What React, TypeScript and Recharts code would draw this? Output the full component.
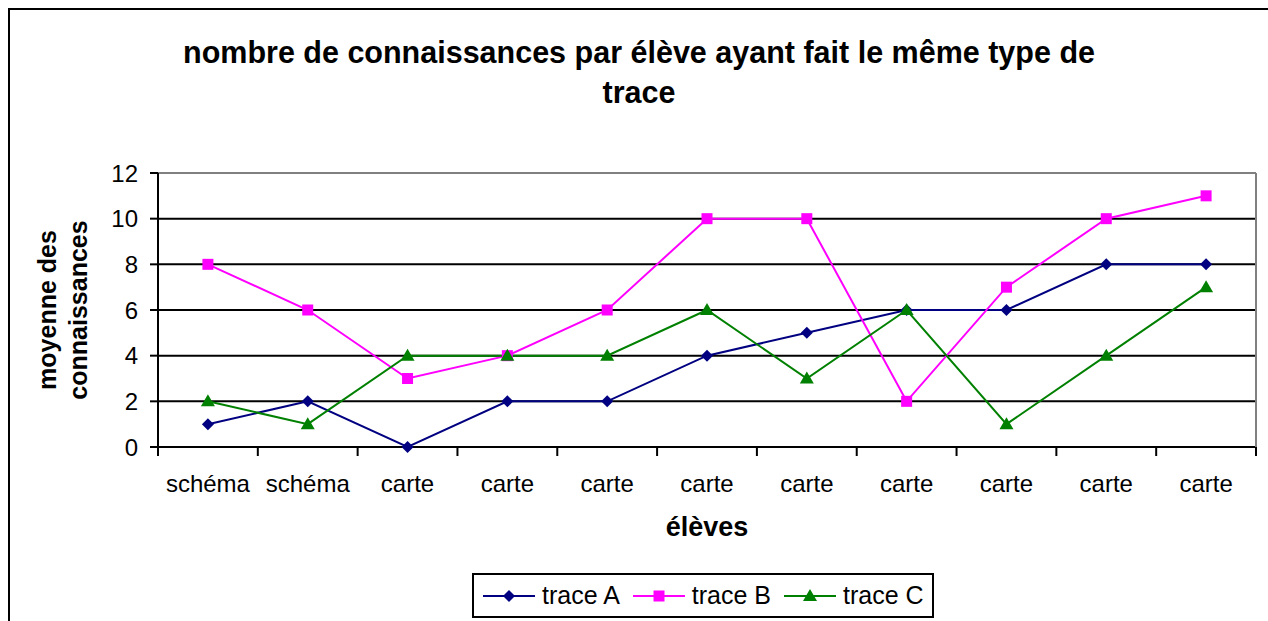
import React from 'react';
import { LineChart, Line, XAxis, YAxis, ReferenceLine, Legend } from 'recharts';

const categories = ['schéma', 'schéma', 'carte', 'carte', 'carte', 'carte', 'carte', 'carte', 'carte', 'carte', 'carte'];
const traceA = [1, 2, 0, 2, 2, 4, 5, 6, 6, 8, 8];
const traceB = [8, 6, 3, 4, 6, 10, 10, 2, 7, 10, 11];
const traceC = [2, 1, 4, 4, 4, 6, 3, 6, 1, 4, 7];
const yTicks = [0, 2, 4, 6, 8, 10, 12];
const gridValues = [2, 4, 6, 8, 10];
const seriesNames = ['trace A', 'trace B', 'trace C'];
const seriesColors = ['#000080', '#FF00FF', '#008000'];
const titleLines = ['nombre de connaissances par élève ayant fait le même type de', 'trace'];
const yLabelLines = ['moyenne des', 'connaissances'];
const xLabel = 'élèves';

const data = categories.map((c, i) => ({ idx: i, name: c, A: traceA[i], B: traceB[i], C: traceC[i] }));

const FONT = 'Arial, "Liberation Sans", sans-serif';

const Diamond = (props: any) => {
  const { cx, cy, color } = props;
  if (cx == null || cy == null) return null;
  const r = 6;
  return <path d={`M${cx},${cy - r}L${cx + r},${cy}L${cx},${cy + r}L${cx - r},${cy}Z`} fill={color} />;
};
const Square = (props: any) => {
  const { cx, cy, color } = props;
  if (cx == null || cy == null) return null;
  const r = 5.5;
  return <rect x={cx - r} y={cy - r} width={2 * r} height={2 * r} fill={color} />;
};
const Triangle = (props: any) => {
  const { cx, cy, color } = props;
  if (cx == null || cy == null) return null;
  return <path d={`M${cx},${cy - 7}L${cx + 7},${cy + 5}L${cx - 7},${cy + 5}Z`} fill={color} />;
};
const shapes = [Diamond, Square, Triangle];

const CatTick = (props: any) => {
  const { x, y, payload, index, visibleTicksCount } = props;
  const off = payload?.offset ?? 0;
  const last = index === (visibleTicksCount ?? categories.length) - 1;
  return (
    <g>
      <line x1={x - off} y1={y} x2={x - off} y2={y + 9} stroke="#000" strokeWidth={2} />
      {last && <line x1={x + off} y1={y} x2={x + off} y2={y + 9} stroke="#000" strokeWidth={2} />}
      <text x={x} y={y + 45} textAnchor="middle" fontFamily={FONT} fontSize={24} fill="#000">
        {categories[payload.value]}
      </text>
    </g>
  );
};

const LegendContent = () => (
  <div
    style={{
      display: 'flex',
      alignItems: 'center',
      border: '2px solid #000',
      background: '#fff',
      height: 41,
      boxSizing: 'content-box',
      padding: '0 8px 0 9px',
      fontFamily: FONT,
      fontSize: 25,
      color: '#000',
    }}
  >
    {seriesNames.map((n, i) => {
      const S = shapes[i];
      return (
        <div key={n} style={{ display: 'flex', alignItems: 'center', marginLeft: i === 0 ? 0 : 13 }}>
          <svg width={52} height={16} style={{ marginRight: 7 }}>
            <line x1={0} y1={8} x2={52} y2={8} stroke={seriesColors[i]} strokeWidth={2} />
            <S cx={26} cy={8} color={seriesColors[i]} />
          </svg>
          <span>{n}</span>
        </div>
      );
    })}
  </div>
);

const YLabel = (props: any) => {
  const vb = props.viewBox || {};
  const cy = (vb.y ?? 173) + (vb.height ?? 273) / 2;
  return (
    <g>
      <text x={56} y={cy} transform={`rotate(-90 56 ${cy})`} textAnchor="middle" fontFamily={FONT} fontWeight="bold" fontSize={25} fill="#000">
        {yLabelLines[0]}
      </text>
      <text x={87} y={cy} transform={`rotate(-90 87 ${cy})`} textAnchor="middle" fontFamily={FONT} fontWeight="bold" fontSize={25} fill="#000">
        {yLabelLines[1]}
      </text>
    </g>
  );
};

export default function App() {
  return (
    <div style={{ position: 'absolute', left: 0, top: 0, width: 1268, height: 621, overflow: 'hidden', background: '#fff' }}>
      <div style={{ position: 'absolute', left: 8, top: 8, width: 1400, height: 800, border: '2px solid #000', boxSizing: 'border-box' }} />
      <div
        style={{
          position: 'absolute',
          left: 0,
          width: 1278,
          top: 32,
          textAlign: 'center',
          fontFamily: FONT,
          fontWeight: 'bold',
          fontSize: 30.5,
          lineHeight: '40px',
          color: '#000',
        }}
      >
        {titleLines.map((t) => (
          <div key={t}>{t}</div>
        ))}
      </div>
      <div style={{ position: 'absolute', left: 0, top: 0 }}>
        <LineChart width={1268} height={621} data={data} margin={{ top: 173, right: 0, bottom: 69, left: 0 }}>
          <XAxis
            dataKey="idx"
            type="category"
            scale="band"
            tickLine={false}
            tickSize={0}
            tickMargin={0}
            axisLine={{ stroke: '#000', strokeWidth: 2 }}
            height={60}
            interval={0}
            tick={<CatTick />}
            label={{ value: xLabel, position: 'insideBottom', offset: -29, fontFamily: FONT, fontWeight: 'bold', fontSize: 27, fill: '#000' }}
          />
          <YAxis
            domain={[0, 12]}
            ticks={yTicks}
            width={158}
            interval={0}
            tickSize={8}
            tickMargin={12}
            axisLine={{ stroke: '#000', strokeWidth: 2 }}
            tickLine={{ stroke: '#000', strokeWidth: 2 }}
            tick={{ fontFamily: FONT, fontSize: 24, fill: '#000' }}
            label={<YLabel />}
          />
          <YAxis
            yAxisId="frame"
            orientation="right"
            domain={[0, 12]}
            width={12}
            tick={false}
            tickLine={false}
            axisLine={{ stroke: '#808080', strokeWidth: 2 }}
          />
          {gridValues.map((v) => (
            <ReferenceLine key={v} y={v} stroke="#000" strokeWidth={2} />
          ))}
          <ReferenceLine y={12} stroke="#808080" strokeWidth={2} />
          <Line dataKey="A" name={seriesNames[0]} stroke={seriesColors[0]} strokeWidth={2} dot={<Diamond color={seriesColors[0]} />} activeDot={false} isAnimationActive={false} />
          <Line dataKey="B" name={seriesNames[1]} stroke={seriesColors[1]} strokeWidth={2} dot={<Square color={seriesColors[1]} />} activeDot={false} isAnimationActive={false} />
          <Line dataKey="C" name={seriesNames[2]} stroke={seriesColors[2]} strokeWidth={2} dot={<Triangle color={seriesColors[2]} />} activeDot={false} isAnimationActive={false} />
          <Legend content={<LegendContent />} wrapperStyle={{ left: 472, top: 573, width: 'auto' }} />
        </LineChart>
      </div>
    </div>
  );
}
